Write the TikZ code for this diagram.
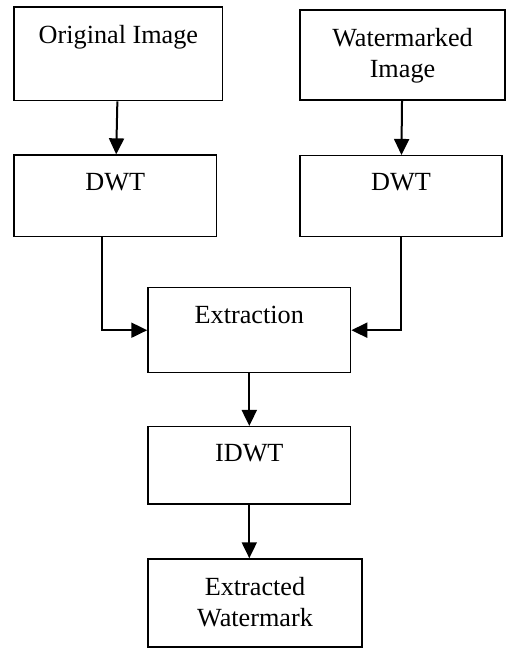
\documentclass[tikz,border=0pt]{standalone}
\usepackage{fontspec}
\setmainfont{Liberation Serif}
\usetikzlibrary{arrows.meta,calc}

\begin{document}
\begin{tikzpicture}[x=0.5pt,y=-0.5pt,
    font=\fontsize{13.1}{15.5}\selectfont]

      \useasboundingbox (0,0) rectangle (506,648);

      \begin{scope}[every node/.style={draw,line width=0.75pt,inner sep=0pt},
                    every label/.style={draw=none,anchor=north,align=center,inner sep=0pt,yshift=-9pt}]
        \node[minimum width=104.3pt,minimum height=46.8pt,label={north:Original Image}] (orig) at (118.4,53.9) {};
        \node[minimum width=102.5pt,minimum height=45pt,label={north:Watermarked\\Image}] (wmk) at (402.5,55) {};
        \node[minimum width=101.3pt,minimum height=40.8pt,label={north:DWT}] (dwtl) at (115.3,195.9) {};
        \node[minimum width=101pt,minimum height=40.5pt,label={north:DWT}] (dwtr) at (401,196.2) {};
        \node[minimum width=101.3pt,minimum height=42.5pt,label={north:Extraction}] (extr) at (249.3,330.2) {};
        \node[minimum width=101.3pt,minimum height=38.6pt,label={north:IDWT}] (idwt) at (249.3,465.3) {};
        \node[minimum width=107pt,minimum height=44pt,label={north:Extracted\\Watermark}] (extw) at (255,603) {};
      \end{scope}

      \begin{scope}[every edge/.style={draw,line width=1pt,-{Triangle[length=8pt,width=7.5pt]}}]
        \path (orig) edge (dwtl);
        \path (wmk)  edge (dwtr);
        \path (extr.south) edge (extr.south |- idwt.north);
        \path (idwt.south) edge (idwt.south |- extw.north);
      \end{scope}

      \coordinate (tapl) at ($(dwtl.south west)!0.434!(dwtl.south east)$);
      \draw[line width=1pt,-{Triangle[length=8pt,width=7.5pt]}] (tapl) |- (extr.west);
      \draw[line width=1pt,-{Triangle[length=8pt,width=7.5pt]}] (dwtr.south) |- (extr.east);

    \end{tikzpicture}
\end{document}
